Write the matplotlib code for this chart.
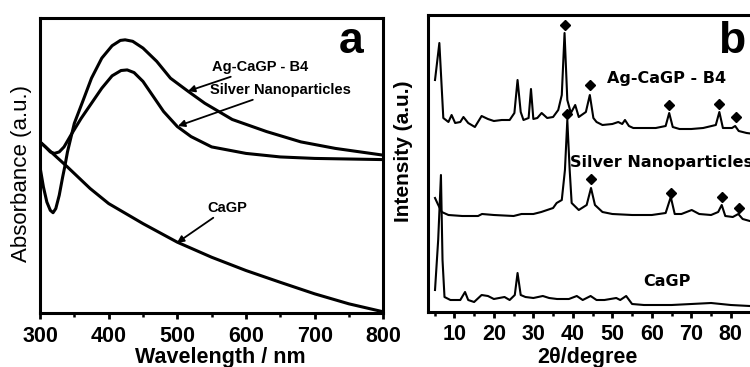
import matplotlib
matplotlib.use('Agg')
import matplotlib.pyplot as plt
from matplotlib.ticker import MultipleLocator

# panel a: UV-vis absorbance (arbitrary units)
wl_ag = [300, 305, 310, 315, 319, 323, 328, 333, 336, 340, 350, 363, 375, 390, 405, 417,
         424, 435, 450, 470, 490, 516, 540, 580, 630, 680, 730, 800]
abs_ag = [0.495, 0.427, 0.376, 0.348, 0.340, 0.354, 0.399, 0.461, 0.495, 0.546, 0.643, 0.722,
          0.796, 0.864, 0.906, 0.924, 0.926, 0.921, 0.898, 0.853, 0.796, 0.751, 0.711, 0.656,
          0.615, 0.580, 0.558, 0.535]
wl_silver = [300, 308, 315, 321, 328, 335, 345, 360, 375, 390, 405, 418, 427, 437, 450, 465,
             480, 500, 520, 550, 600, 650, 700, 800]
abs_silver = [0.580, 0.563, 0.546, 0.541, 0.546, 0.563, 0.603, 0.660, 0.711, 0.762, 0.804,
              0.822, 0.824, 0.815, 0.785, 0.734, 0.683, 0.632, 0.598, 0.563, 0.541, 0.529,
              0.524, 0.520]
wl_cagp = [300, 340, 373, 400, 450, 500, 550, 600, 650, 700, 750, 800]
abs_cagp = [0.580, 0.495, 0.422, 0.371, 0.303, 0.240, 0.189, 0.144, 0.104, 0.065, 0.031, 0.004]

# panel b: XRD patterns, already stacked (a.u.)
tt_ag = [5.1, 6.2, 7.2, 8.5, 9.3, 10.2, 11.5, 12.3, 13.5, 15.2, 16.9, 18.5, 20, 22, 24, 25.2,
         26.0, 26.8, 27.5, 28.8, 29.4, 30.0, 31, 32.1, 33.5, 35.0, 36.3, 37.2, 37.9, 38.6,
         39.5, 40.6, 41.5, 43.3, 44.3, 45.2, 46.0, 47.5, 50, 51.5, 52.5, 53.2, 54.2, 55.3,
         58, 61, 63.5, 64.4, 65.3, 67, 70, 73, 76.2, 77.1, 78.0, 80.3, 81.1, 82.0, 84, 88]
int_ag = [232, 269, 194, 190, 197, 189, 190, 195, 189, 185, 196, 193, 191, 192, 192, 199,
          232, 200, 192, 194, 223, 193, 194, 199, 194, 195, 202, 217, 279, 212,
          199, 207, 195, 200, 217, 194, 190, 187, 188, 190, 188, 192, 186, 184,
          184, 184, 186, 199, 185, 183, 183, 184, 187, 200, 184, 184, 186, 181, 179, 177]
tt_silver = [5.1, 5.8, 6.8, 8.5, 12, 16, 17, 20, 25, 27, 30, 32, 33.5, 35, 35.9, 37.2, 38.0,
             38.6, 39.2, 39.7, 41.5, 43.5, 44.6, 45.6, 47.5, 50, 55, 60, 63.5, 64.8, 65.8,
             67.5, 70.1, 72, 75, 76.8, 77.7, 78.6, 80.5, 81.9, 83, 84.8, 88]
int_silver = [114, 108, 100, 97, 96, 96, 98, 97, 96, 98, 98, 100, 102, 104, 109, 112, 142,
              192, 142, 109, 102, 107, 124, 107, 100, 98, 97, 97, 99, 115, 98,
              98, 102, 98, 97, 100, 107, 96, 95, 98, 93, 91, 90]
tt_cagp = [5.1, 5.9, 6.6, 7.0, 7.5, 9, 11.5, 12.7, 13.5, 15, 16.9, 18.5, 20, 22.7, 24, 25.3,
           26.0, 26.8, 28, 30, 32.4, 34, 36, 39, 41.0, 42.5, 44.5, 46, 48, 51.0, 52, 53.5,
           55, 58, 65, 70, 75, 80, 84.8, 88]
int_cagp = [22, 72, 137, 52, 15, 12, 12, 20, 12, 10, 17, 16, 13, 15, 12, 17,
            39, 17, 15, 14, 16, 14, 13, 13, 16, 12, 16, 12, 12, 14, 12, 16,
            8, 7, 7, 8, 9, 7, 6, 6]

# silver reflections marked with diamonds
dia_ag_x = [37.9, 44.3, 64.4, 77.1, 81.2]
dia_ag_y = [287, 227, 207, 208, 195]
dia_silver_x = [38.6, 44.6, 64.8, 77.7, 82.0]
dia_silver_y = [198, 133, 119, 115, 104]

tick_font = ['Liberation Sans', 'DejaVu Sans']
tick_size = 15.5

fig = plt.figure(figsize=(7.5, 3.67), dpi=100, facecolor='white')
ax_a = fig.add_axes([40 / 750, 1 - 313 / 367, 343.3 / 750, 295 / 367])
ax_b = fig.add_axes([428.3 / 750, 1 - 312 / 367, 334.1 / 750, 297 / 367])

# ---- panel a
for x, y in [(wl_ag, abs_ag), (wl_silver, abs_silver), (wl_cagp, abs_cagp)]:
    ax_a.plot(x, y, color='black', lw=2.2, solid_capstyle='round')
ax_a.set_xlim(300, 800)
ax_a.set_ylim(0, 1)
ax_a.xaxis.set_major_locator(MultipleLocator(100))
ax_a.xaxis.set_minor_locator(MultipleLocator(50))
ax_a.set_yticks([])

arrow = dict(arrowstyle='-|>', color='black', lw=1.3, mutation_scale=10, shrinkA=0, shrinkB=0)
ax_a.annotate('Ag-CaGP - B4', xy=(515.5, 0.752), xytext=(550, 0.834), fontsize=10.5,
              fontweight='bold', family='Liberation Sans', va='center', arrowprops=arrow)
ax_a.annotate('Silver Nanoparticles', xy=(501, 0.634), xytext=(548, 0.756), fontsize=10.5,
              fontweight='bold', family='Liberation Sans', va='center', arrowprops=arrow)
ax_a.annotate('CaGP', xy=(499.5, 0.238), xytext=(544, 0.356), fontsize=10.5,
              fontweight='bold', family='Liberation Sans', va='center', arrowprops=arrow)
ax_a.text(0.906, 0.881, 'a', transform=ax_a.transAxes, fontsize=32, fontweight='bold',
          family='Liberation Sans', ha='center', va='baseline')

# ---- panel b
for x, y in [(tt_ag, int_ag), (tt_silver, int_silver), (tt_cagp, int_cagp)]:
    ax_b.plot(x, y, color='black', lw=1.5)
ax_b.plot(dia_ag_x, dia_ag_y, 'D', color='black', ms=5.5)
ax_b.plot(dia_silver_x, dia_silver_y, 'D', color='black', ms=5.5)
ax_b.set_xlim(3.4, 88)
ax_b.set_ylim(0, 297)
ax_b.xaxis.set_major_locator(MultipleLocator(10))
ax_b.xaxis.set_minor_locator(MultipleLocator(5))
ax_b.set_yticks([])
ax_b.text(48.7, 234, 'Ag-CaGP - B4', fontsize=11.5, fontweight='bold', va='center')
ax_b.text(39.3, 150, 'Silver Nanoparticles', fontsize=11.5, fontweight='bold', va='center')
ax_b.text(57.8, 30, 'CaGP', fontsize=11.5, fontweight='bold', va='center')
ax_b.text(0.909, 0.872, 'b', transform=ax_b.transAxes, fontsize=32, fontweight='bold',
          family='Liberation Sans', ha='center', va='baseline')

for ax in [ax_a, ax_b]:
    for s in ax.spines.values():
        s.set_linewidth(2.2)
    ax.tick_params(axis='x', which='major', direction='out', length=4, width=2, pad=5,
                   top=False)
    ax.tick_params(axis='x', which='minor', direction='out', length=3, width=1.8, top=False)
    for lab in ax.get_xticklabels():
        lab.set_family(tick_font)
        lab.set_fontweight('bold')
        lab.set_fontsize(tick_size)

# axis titles placed by pixel
fig.text(220 / 750, 1 - 357 / 367, 'Wavelength / nm', family=tick_font, fontweight='bold',
         fontsize=tick_size, ha='center', va='center')
fig.text(587 / 750, 1 - 357.5 / 367, '2θ/degree', family=tick_font, fontweight='bold',
         fontsize=tick_size, ha='center', va='center')
fig.text(22 / 750, 1 - 173 / 367, 'Absorbance (a.u.)', family='Liberation Sans',
         fontsize=16, rotation=90, ha='center', va='center')
fig.text(404 / 750, 1 - 151 / 367, 'Intensity (a.u.)', family='Liberation Sans',
         fontweight='bold', fontsize=15, rotation=90, ha='center', va='center')

fig.savefig('out.png', dpi=100, facecolor='white')
